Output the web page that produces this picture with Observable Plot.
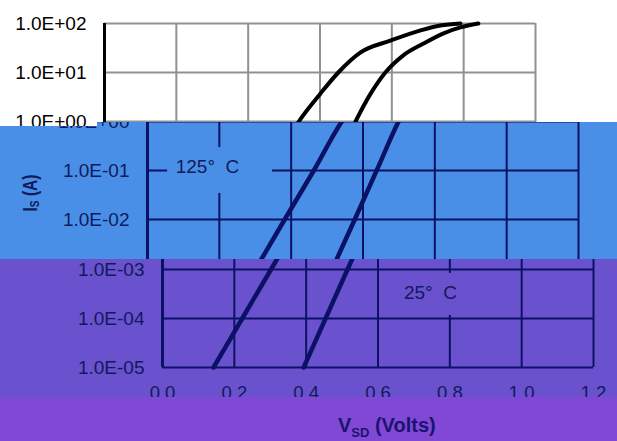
<!DOCTYPE html>
<html><head><meta charset="utf-8">
<script src="https://cdn.jsdelivr.net/npm/d3@7"></script>
<script src="https://cdn.jsdelivr.net/npm/@observablehq/plot@0.6"></script>
<style>
body{margin:0;background:#fff}
#root{position:relative;width:617px;height:441px;overflow:hidden;font-family:"Liberation Sans",Arial,sans-serif}
.band{position:absolute;overflow:hidden}
.band svg{position:absolute;overflow:visible;max-width:none}
</style></head><body><div id="root"></div>
<script>
// axis ticks
const xTicks = [0, 0.2, 0.4, 0.6, 0.8, 1.0, 1.2];
const xTickLabels = ["0.0", "0.2", "0.4", "0.6", "0.8", "1.0", "1.2"];
const yTicks = [1e-5, 1e-4, 1e-3, 1e-2, 1e-1, 1e0, 1e1, 1e2];
const yTickLabels = ["1.0E-05", "1.0E-04", "1.0E-03", "1.0E-02", "1.0E-01", "1.0E+00", "1.0E+01", "1.0E+02"];

// 125 °C curve: V_SD (V) and I_S (A)
const v125 = [0.142, 0.222, 0.302, 0.382, 0.463, 0.541, 0.601, 0.651, 0.713, 0.796, 0.880, 0.935, 0.991];
const i125 = [1e-5, 1e-4, 1e-3, 1e-2, 1e-1, 1, 3.7, 10, 25.7, 44.7, 72.4, 91, 100];
// 25 °C curve
const v25 = [0.393, 0.454, 0.515, 0.577, 0.638, 0.699, 0.741, 0.782, 0.832, 0.888, 0.944, 0.991, 1.041];
const i25 = [1e-5, 1e-4, 1e-3, 1e-2, 1e-1, 1, 3.7, 10, 22.4, 38.9, 63.1, 83.2, 100];

// annotations
const annText = ["125°\u00a0\u00a0C", "25°\u00a0\u00a0C"];
const annV = [0.167, 0.746];
const annI = [0.121, 3.3e-4];
const boxV1 = [0.056, 0.643], boxV2 = [0.348, 0.849];
const boxI1 = [0.294, 8.3e-4], boxI2 = [0.034, 1.15e-4];

const navy = "#0b1266", navyText = "#101a5c";
const white = {bg: "#ffffff", grid: "#919191", axis: "#000000", line: "#000000", text: "#000000"};
const bands = [
  {top: 0,   h: 122, left: 0, w: 617, dx: 0,  dy: 0, lw: 4,   c: white},
  {top: 122, h: 137, left: 0, w: 617, dx: 43, dy: 0, lw: 4.5, c: {bg: "#4a8fe7", grid: navy, axis: navy, line: navy, text: navyText}},
  {top: 122, h: 4,   left: 0, w: 97,  dx: 0,  dy: 0, lw: 4,   c: white},
  {top: 259, h: 138, left: 0, w: 617, dx: 58, dy: 1, lw: 4.5, c: {bg: "#6a51cd", grid: navy, axis: navy, line: navy, text: navyText}}
];
const band4 = {top: 397, h: 44, bg: "#8147d5", text: "#1a1470"};

function chart(c, lw) {
  const curves = [
    ...v125.map((v, k) => ({v, i: i125[k], s: "125"})),
    ...v25.map((v, k) => ({v, i: i25[k], s: "25"}))
  ];
  const ann = annText.map((t, k) => ({t, v: annV[k], i: annI[k], x1: boxV1[k], x2: boxV2[k], y1: boxI1[k], y2: boxI2[k]}));
  const svg = Plot.plot({
    width: 617, height: 441,
    marginLeft: 104, marginRight: 82, marginTop: 23, marginBottom: 75,
    style: {background: "none", color: c.text, fontFamily: '"Liberation Sans", Arial, sans-serif', overflow: "visible"},
    x: {domain: [0, 1.2]},
    y: {type: "log", domain: [1e-5, 1e2]},
    marks: [
      Plot.ruleX(xTicks, {stroke: c.grid, strokeWidth: 2}),
      Plot.ruleY(yTicks, {stroke: c.grid, strokeWidth: 2}),
      Plot.rect(ann, {x1: "x1", x2: "x2", y1: "y1", y2: "y2", fill: c.bg}),
      Plot.ruleX([0], {stroke: c.axis, strokeWidth: 3}),
      Plot.line(curves, {x: "v", y: "i", z: "s", stroke: c.line, strokeWidth: lw, curve: "monotone-x", strokeLinejoin: "round"}),
      Plot.text(ann, {x: "v", y: "i", text: "t", fontSize: 19, fill: c.text}),
      Plot.axisX(xTicks, {tickFormat: d => xTickLabels[xTicks.indexOf(d)], tickSize: 0, tickPadding: 18, fontSize: 18.5, label: null}),
      Plot.axisY(yTicks, {tickFormat: d => yTickLabels[yTicks.indexOf(d)], tickSize: 0, tickPadding: 18, fontSize: 19, label: null})
    ]
  });
  // y axis label (I_S (A)), rotated
  const yl = d3.select(svg).append("text")
    .attr("transform", "translate(-6,193) rotate(-90)")
    .attr("text-anchor", "middle")
    .attr("font-weight", "bold").attr("font-size", 20).attr("fill", c.text)
    .attr("textLength", 37).attr("lengthAdjust", "spacingAndGlyphs");
  yl.append("tspan").text("I");
  yl.append("tspan").attr("font-size", 13).attr("dy", 2).text("S");
  yl.append("tspan").attr("dy", -2).text(" (A)");
  return svg;
}

const root = document.getElementById("root");
for (const b of bands) {
  const div = document.createElement("div");
  div.className = "band";
  div.style.top = b.top + "px";
  div.style.left = b.left + "px";
  div.style.width = b.w + "px";
  div.style.height = b.h + "px";
  div.style.background = b.c.bg;
  const svg = chart(b.c, b.lw);
  svg.style.left = (b.dx - b.left) + "px";
  svg.style.top = (b.dy - b.top) + "px";
  svg.style.width = "617px";
  svg.style.height = "441px";
  div.appendChild(svg);
  root.appendChild(div);
}
// bottom band with the x axis title
const d4 = document.createElement("div");
d4.className = "band";
d4.style.top = band4.top + "px";
d4.style.left = "0px";
d4.style.width = "617px";
d4.style.height = band4.h + "px";
d4.style.background = band4.bg;
root.appendChild(d4);
const s4 = d3.select(d4).append("svg")
  .attr("width", 617).attr("height", band4.h)
  .style("left", "0px").style("top", "0px");
const xl = s4.append("text")
  .attr("x", 338).attr("y", 35)
  .attr("font-family", '"Liberation Sans", Arial, sans-serif')
  .attr("font-weight", "bold").attr("font-size", 20).attr("fill", band4.text);
xl.append("tspan").text("V");
xl.append("tspan").attr("font-size", 13).attr("dy", 5).text("SD");
xl.append("tspan").attr("dy", -5).text(" (Volts)");
</script>
</body></html>
